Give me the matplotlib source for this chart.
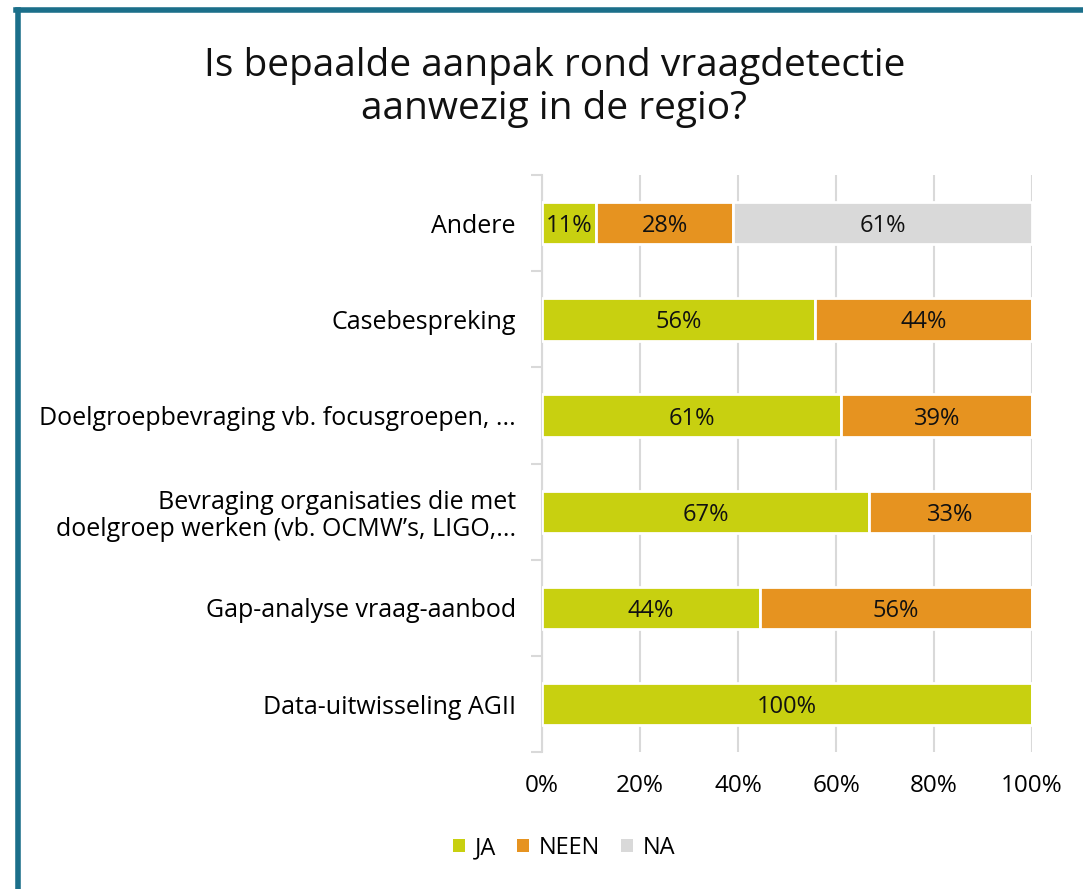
import matplotlib.pyplot as plt
from matplotlib.lines import Line2D
from matplotlib.patches import Patch

categories = [
    "Andere",
    "Casebespreking",
    "Doelgroepbevraging vb. focusgroepen, ...",
    "Bevraging organisaties die met\ndoelgroep werken (vb. OCMW\u2019s, LIGO,...",
    "Gap-analyse vraag-aanbod",
    "Data-uitwisseling AGII",
]
ja = [11.1, 55.6, 61.1, 66.7, 44.4, 100.0]
neen = [27.8, 44.4, 38.9, 33.3, 55.6, 0.0]
na = [61.1, 0.0, 0.0, 0.0, 0.0, 0.0]
series = [("JA", ja, "#c8d010"), ("NEEN", neen, "#e69320"), ("NA", na, "#d9d9d9")]
xticks = [0, 20, 40, 60, 80, 100]

FONT = "Open Sans"
TEAL = "#1b6f8a"
GRID = "#d9d9d9"

plt.rcParams["font.family"] = [FONT, "DejaVu Sans"]

fig = plt.figure(figsize=(10.83, 8.89), dpi=100)
ax = fig.add_axes([0.5005, 0.154, 0.4525, 0.649])

y = list(range(len(categories)))
left = [0.0] * len(categories)
for name, vals, color in series:
    ax.barh(y, vals, left=left, height=0.44, color=color,
            edgecolor="white", linewidth=2, label=name, zorder=3)
    for i, v in enumerate(vals):
        if v > 0:
            ax.text(left[i] + v / 2, i, f"{v:.0f}%", ha="center", va="center_baseline",
                    fontsize=17, color="#111111", zorder=4)
    left = [a + b for a, b in zip(left, vals)]

ax.set_xlim(0, 100)
ax.set_ylim(len(categories) - 0.5, -0.5)
ax.set_xticks(xticks, [f"{t}%" for t in xticks], fontsize=17.5)
ax.set_yticks(y, categories, fontsize=18)
ax.tick_params(axis="x", length=0, pad=16)
ax.tick_params(axis="y", length=0, pad=19)
ax.set_yticks([i - 0.5 for i in range(len(categories) + 1)], minor=True)
ax.tick_params(axis="y", which="minor", length=8, color=GRID, width=1.5)
for lbl in ax.get_yticklabels():
    lbl.set_horizontalalignment("right")
    lbl.set_multialignment("right")
    lbl.set_linespacing(1.1)

for s in ("top", "right", "bottom"):
    ax.spines[s].set_visible(False)
ax.spines["left"].set_color(GRID)
ax.spines["left"].set_linewidth(1.5)
ax.grid(axis="x", color=GRID, linewidth=1.5, zorder=0)
ax.set_axisbelow(True)

fig.text(0.512, 0.9015, "Is bepaalde aanpak rond vraagdetectie\naanwezig in de regio?",
         ha="center", va="center", fontsize=28, linespacing=1.15, color="#111111")

handles = [Patch(facecolor=c, edgecolor="none") for _, _, c in series]
fig.legend(handles, [n for n, _, _ in series], loc="center", bbox_to_anchor=(0.521, 0.046),
           ncol=3, frameon=False, fontsize=17, handlelength=0.5, handleheight=0.5,
           handletextpad=0.4, columnspacing=0.9)

# frame in the corner
fig.add_artist(Line2D([0.0162, 0.0162], [0, 0.9893], color=TEAL, linewidth=4,
                      transform=fig.transFigure))
fig.add_artist(Line2D([0.0144, 1.0], [0.9893, 0.9893], color=TEAL, linewidth=4,
                      transform=fig.transFigure))

fig.savefig("out.png", dpi=100, facecolor="white")
